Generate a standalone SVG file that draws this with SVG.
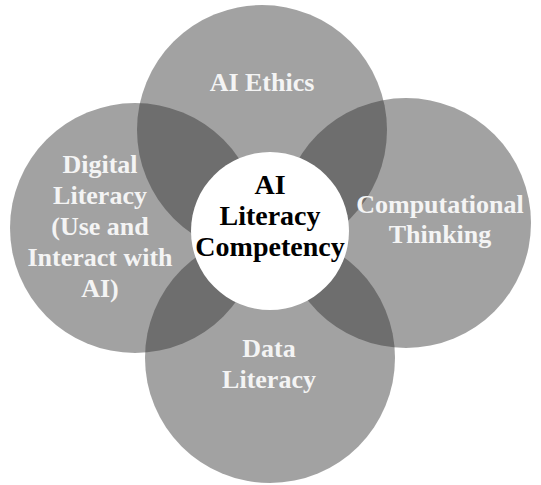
<svg xmlns="http://www.w3.org/2000/svg" width="541" height="485" viewBox="0 0 541 485">
  <style>
    .petal { fill: #2c2c2c; fill-opacity: 0.44; }
    .core { fill: #ffffff; }
    .label { font-family: "Liberation Serif", "Times New Roman", serif; font-weight: bold; font-size: 26px; fill: #f4f4f4; text-anchor: middle; }
    .core-label { font-family: "Liberation Serif", "Times New Roman", serif; font-weight: bold; font-size: 28px; fill: #000000; text-anchor: middle; }
  </style>
  <rect width="541" height="485" fill="#ffffff"/>

  <!-- outer competency circles, drawn so each label sits above the circles before it -->
  <g id="ai-ethics">
    <circle class="petal" cx="262" cy="130" r="125"/>
    <text class="label" x="262" y="91">AI Ethics</text>
  </g>

  <g id="digital-literacy">
    <circle class="petal" cx="135" cy="228" r="125"/>
    <text class="label" x="100" y="173">Digital</text>
    <text class="label" x="100" y="204">Literacy</text>
    <text class="label" x="100" y="235">(Use and</text>
    <text class="label" x="100" y="266">Interact with</text>
    <text class="label" x="100" y="297">AI)</text>
  </g>

  <g id="data-literacy">
    <circle class="petal" cx="270" cy="358" r="125"/>
    <text class="label" x="269" y="357">Data</text>
    <text class="label" x="269" y="388">Literacy</text>
  </g>

  <g id="computational-thinking">
    <circle class="petal" cx="406" cy="223" r="125"/>
    <text class="label" x="440" y="213">Computational</text>
    <text class="label" x="440" y="243">Thinking</text>
  </g>

  <!-- central competency -->
  <g id="ai-literacy-competency">
    <circle class="core" cx="270" cy="231" r="79"/>
    <text class="core-label" x="270" y="194">AI</text>
    <text class="core-label" x="270" y="225">Literacy</text>
    <text class="core-label" x="270" y="256">Competency</text>
  </g>
</svg>
